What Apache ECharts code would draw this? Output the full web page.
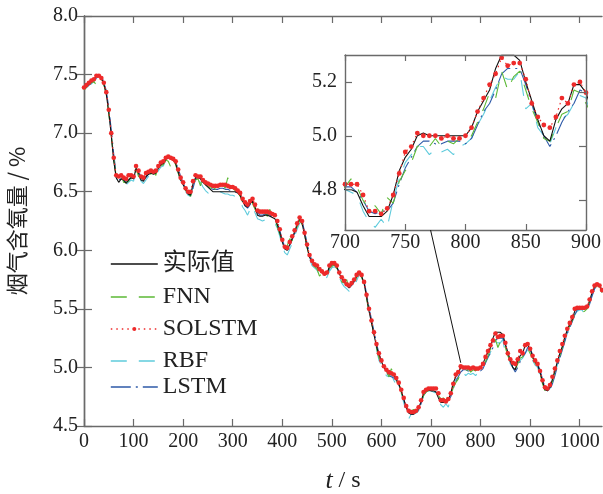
<!DOCTYPE html>
<html><head><meta charset="utf-8">
<script src="https://cdn.jsdelivr.net/npm/echarts@6/dist/echarts.min.js"></script>
<style>html,body{margin:0;padding:0;background:#fff}#c{width:603px;height:494px}</style>
</head><body><div id="c"></div><script>
const times = [
0,5,10,15,20,25,30,35,40,45,50,55,60,65,70,75,80,85,90,95,
100,105,110,115,120,125,130,135,140,145,150,155,160,165,170,175,180,185,190,195,
200,205,210,215,220,225,230,235,240,245,250,255,260,265,270,275,280,285,290,295,
300,305,310,315,320,325,330,335,340,345,350,355,360,365,370,375,380,385,390,395,
400,405,410,415,420,425,430,435,440,445,450,455,460,465,470,475,480,485,490,495,
500,505,510,515,520,525,530,535,540,545,550,555,560,565,570,575,580,585,590,595,
600,605,610,615,620,625,630,635,640,645,650,655,660,665,670,675,680,685,690,695,
700,705,710,715,720,725,730,735,740,745,750,755,760,765,770,775,780,785,790,795,
800,805,810,815,820,825,830,835,840,845,850,855,860,865,870,875,880,885,890,895,
900,905,910,915,920,925,930,935,940,945,950,955,960,965,970,975,980,985,990,995,
1000,1005,1010,1015,1020,1025,1030,1035,1040,1045];

const actual = [
7.38,7.40,7.42,7.44,7.46,7.49,7.50,7.47,7.42,7.33,
7.18,6.98,6.76,6.62,6.58,6.61,6.60,6.57,6.60,6.62,
6.61,6.70,6.66,6.60,6.59,6.63,6.65,6.66,6.65,6.66,
6.70,6.73,6.74,6.78,6.79,6.78,6.77,6.74,6.67,6.60,
6.56,6.52,6.48,6.47,6.57,6.62,6.62,6.61,6.58,6.56,
6.54,6.52,6.50,6.50,6.50,6.50,6.50,6.50,6.50,6.50,
6.50,6.50,6.49,6.47,6.42,6.38,6.37,6.40,6.42,6.37,
6.30,6.29,6.29,6.30,6.30,6.29,6.28,6.27,6.22,6.15,
6.07,6.01,6.00,6.05,6.10,6.16,6.22,6.27,6.23,6.13,
6.03,5.94,5.90,5.87,5.86,5.83,5.81,5.79,5.80,5.86,
5.88,5.88,5.86,5.80,5.76,5.73,5.70,5.68,5.71,5.74,
5.78,5.81,5.78,5.72,5.60,5.48,5.38,5.28,5.18,5.11,
5.05,5.00,4.97,4.95,4.94,4.93,4.90,4.86,4.80,4.73,
4.66,4.61,4.60,4.60,4.62,4.65,4.71,4.78,4.80,4.81,
4.80,4.80,4.79,4.74,4.70,4.70,4.70,4.72,4.78,4.87,
4.92,4.95,5.00,5.01,5.00,5.00,5.00,5.00,5.00,5.00,
5.00,5.03,5.09,5.13,5.17,5.25,5.30,5.30,5.30,5.28,
5.20,5.13,5.06,5.00,4.98,5.06,5.10,5.12,5.19,5.19,
5.16,5.09,5.05,5.02,4.96,4.88,4.81,4.80,4.83,4.90,
4.97,5.05,5.12,5.18,5.26,5.32,5.37,5.41,5.48,5.50,
5.50,5.50,5.50,5.51,5.57,5.64,5.69,5.71,5.70,5.66];

const fnn = [
7.37,7.39,7.42,7.43,7.44,7.41,7.48,7.47,7.41,7.34,
7.16,6.98,6.78,6.63,6.60,6.64,6.58,6.58,6.59,6.63,
6.60,6.70,6.63,6.62,6.59,6.64,6.66,6.65,6.67,6.64,
6.74,6.72,6.73,6.77,6.76,6.71,6.78,6.73,6.66,6.60,
6.55,6.51,6.49,6.46,6.55,6.60,6.61,6.55,6.64,6.56,
6.55,6.53,6.54,6.52,6.54,6.52,6.56,6.53,6.62,6.54,
6.53,6.51,6.50,6.46,6.41,6.37,6.39,6.43,6.40,6.35,
6.30,6.31,6.30,6.32,6.29,6.35,6.28,6.27,6.20,6.14,
6.08,6.01,6.04,6.10,6.08,6.17,6.20,6.26,6.22,6.14,
6.02,5.95,5.89,5.86,5.84,5.78,5.80,5.77,5.80,5.85,
5.86,5.88,5.84,5.79,5.73,5.72,5.75,5.67,5.70,5.72,
5.77,5.80,5.77,5.71,5.59,5.47,5.39,5.27,5.17,5.08,
5.04,4.98,4.97,4.92,4.99,4.94,4.88,4.87,4.79,4.71,
4.68,4.62,4.63,4.64,4.63,4.67,4.70,4.76,4.79,4.80,
4.81,4.84,4.81,4.76,4.73,4.74,4.71,4.77,4.75,4.83,
4.87,4.90,4.96,4.97,4.96,4.99,4.96,4.98,4.97,4.99,
4.98,5.00,5.05,5.10,5.16,5.14,5.24,5.17,5.22,5.24,
5.17,5.10,5.05,4.99,4.98,5.03,5.08,5.09,5.17,5.16,
5.12,5.08,5.04,5.00,4.95,4.86,4.80,4.80,4.82,4.88,
4.97,5.04,5.10,5.17,5.25,5.30,5.36,5.40,5.46,5.48,
5.49,5.47,5.48,5.50,5.56,5.63,5.67,5.70,5.69,5.64];

const solstm = [
7.39,7.41,7.43,7.45,7.46,7.49,7.49,7.47,7.43,7.35,
7.20,7.00,6.79,6.64,6.63,6.64,6.62,6.61,6.64,6.64,
6.63,6.72,6.68,6.63,6.62,6.66,6.67,6.68,6.67,6.68,
6.72,6.75,6.76,6.79,6.80,6.79,6.78,6.76,6.69,6.62,
6.58,6.53,6.50,6.50,6.59,6.64,6.63,6.63,6.60,6.58,
6.57,6.56,6.55,6.55,6.55,6.56,6.56,6.56,6.55,6.54,
6.54,6.53,6.51,6.49,6.44,6.41,6.39,6.42,6.44,6.39,
6.34,6.33,6.33,6.33,6.33,6.32,6.31,6.30,6.25,6.18,
6.09,6.03,6.02,6.07,6.12,6.17,6.23,6.28,6.25,6.15,
6.05,5.96,5.91,5.88,5.87,5.84,5.82,5.80,5.81,5.87,
5.89,5.89,5.87,5.81,5.77,5.74,5.71,5.70,5.72,5.75,
5.79,5.81,5.79,5.73,5.62,5.50,5.40,5.30,5.20,5.12,
5.06,5.01,4.98,4.96,4.95,4.94,4.91,4.87,4.81,4.74,
4.67,4.63,4.62,4.62,4.63,4.66,4.72,4.79,4.81,4.82,
4.82,4.82,4.82,4.78,4.72,4.72,4.71,4.73,4.78,4.86,
4.94,4.96,5.01,5.00,5.00,5.00,4.99,5.00,4.99,4.99,
5.00,5.03,5.09,5.14,5.19,5.23,5.29,5.26,5.27,5.27,
5.21,5.12,5.07,5.04,5.03,5.07,5.14,5.12,5.19,5.20,
5.16,5.10,5.06,5.03,4.97,4.89,4.83,4.82,4.85,4.92,
4.99,5.06,5.14,5.20,5.27,5.33,5.38,5.43,5.50,5.51,
5.51,5.51,5.51,5.52,5.58,5.65,5.70,5.71,5.70,5.66];

const rbf = [
7.37,7.39,7.41,7.42,7.44,7.47,7.49,7.47,7.43,7.34,
7.19,7.00,6.79,6.62,6.58,6.59,6.58,6.56,6.58,6.60,
6.59,6.68,6.65,6.59,6.57,6.60,6.63,6.63,6.62,6.64,
6.68,6.71,6.72,6.77,6.78,6.77,6.76,6.73,6.66,6.59,
6.54,6.50,6.47,6.46,6.54,6.60,6.60,6.58,6.54,6.51,
6.49,6.48,6.48,6.49,6.49,6.50,6.49,6.48,6.48,6.47,
6.47,6.46,6.45,6.43,6.37,6.34,6.30,6.35,6.38,6.32,
6.27,6.26,6.25,6.26,6.25,6.25,6.24,6.23,6.19,6.12,
6.04,5.98,5.96,6.01,6.06,6.12,6.18,6.23,6.26,6.16,
6.05,5.93,5.87,5.85,5.83,5.79,5.77,5.75,5.77,5.82,
5.85,5.86,5.84,5.77,5.72,5.69,5.67,5.65,5.66,5.68,
5.74,5.79,5.77,5.72,5.62,5.51,5.39,5.29,5.16,5.06,
5.02,4.97,4.93,4.92,4.94,4.89,4.85,4.83,4.78,4.70,
4.62,4.56,4.60,4.61,4.61,4.63,4.69,4.76,4.79,4.80,
4.80,4.79,4.78,4.72,4.68,4.66,4.69,4.66,4.76,4.84,
4.90,4.93,4.96,4.96,4.93,4.95,4.94,4.95,4.93,4.96,
4.97,4.99,5.04,5.08,5.13,5.18,5.22,5.21,5.21,5.24,
5.10,5.12,5.03,5.00,4.97,5.03,5.06,5.08,5.12,5.15,
5.14,5.06,5.02,5.00,4.93,4.86,4.82,4.80,4.82,4.88,
4.95,5.02,5.09,5.16,5.23,5.29,5.35,5.39,5.45,5.48,
5.49,5.49,5.45,5.49,5.55,5.62,5.67,5.69,5.68,5.64];

const lstm = [
7.38,7.39,7.41,7.43,7.45,7.47,7.49,7.48,7.44,7.36,
7.22,7.03,6.82,6.65,6.60,6.61,6.60,6.58,6.60,6.62,
6.61,6.68,6.68,6.62,6.60,6.62,6.65,6.66,6.65,6.66,
6.70,6.73,6.75,6.78,6.80,6.79,6.78,6.75,6.70,6.63,
6.57,6.53,6.49,6.48,6.53,6.61,6.63,6.62,6.59,6.56,
6.54,6.53,6.52,6.52,6.52,6.53,6.53,6.52,6.52,6.51,
6.51,6.50,6.49,6.47,6.43,6.38,6.36,6.39,6.42,6.38,
6.32,6.30,6.30,6.31,6.31,6.30,6.29,6.28,6.24,6.17,
6.09,6.03,6.00,6.04,6.09,6.15,6.21,6.26,6.25,6.16,
6.06,5.97,5.91,5.88,5.86,5.83,5.81,5.79,5.79,5.84,
5.87,5.88,5.86,5.81,5.76,5.73,5.70,5.68,5.70,5.73,
5.77,5.80,5.79,5.74,5.63,5.51,5.41,5.31,5.21,5.12,
5.06,5.01,4.96,4.93,4.92,4.91,4.89,4.85,4.80,4.73,
4.66,4.62,4.60,4.60,4.61,4.64,4.69,4.76,4.79,4.81,
4.81,4.81,4.79,4.76,4.72,4.71,4.72,4.72,4.75,4.82,
4.88,4.92,4.96,4.98,4.98,4.97,4.97,4.98,4.98,4.98,
4.97,4.99,5.04,5.09,5.12,5.17,5.23,5.25,5.25,5.25,
5.19,5.12,5.05,5.00,4.96,5.00,5.05,5.09,5.12,5.17,
5.16,5.11,5.06,5.03,4.98,4.90,4.83,4.80,4.81,4.86,
4.93,5.01,5.08,5.15,5.22,5.29,5.34,5.39,5.45,5.49,
5.50,5.50,5.50,5.50,5.54,5.61,5.67,5.70,5.70,5.67];

const seriesNames = ['实际值', 'FNN', 'SOLSTM', 'RBF', 'LSTM'];
const mainXTicks = [0,100,200,300,400,500,600,700,800,900,1000];
const mainYTicks = [4.5,5.0,5.5,6.0,6.5,7.0,7.5,8.0];
const insetXTicks = [700,750,800,850,900];
const insetYTicks = [4.8,5.0,5.2];
const insetYRightTicks = [4.76,4.96,5.16];
const yName = '烟气含氧量 / %';
// connector anchor: inset bottom point and the main-chart point it refers to
const connInset = [771, 4.65];
const connMain = [760, 5.04];

const SERIF = '"Liberation Serif","Times New Roman",serif';
const AX = '#6a6a6a';
const pairs = arr => times.map((t, i) => [t, arr[i]]);

const styles = {
  '实际值': {color:'#111111', type:'solid', width:1.1, z:4},
  'FNN': {color:'#5cb936', type:[16,12], width:1.1, z:3},
  'SOLSTM': {color:'#ee2a2a', type:[1.5,4], width:1.2, z:6},
  'RBF': {color:'#5fcbdc', type:[16,12], width:1.1, z:1},
  'LSTM': {color:'#2e5aa8', type:[20,5,2,5], width:1.1, z:2}
};
const dataMap = {'实际值': actual, 'FNN': fnn, 'SOLSTM': solstm, 'RBF': rbf, 'LSTM': lstm};

function mkSeries(name, xi, yi, symSize) {
  const s = styles[name];
  const isRed = name === 'SOLSTM';
  return {
    type: 'line', name, xAxisIndex: xi, yAxisIndex: yi,
    data: pairs(dataMap[name]),
    symbol: isRed ? 'circle' : 'none', symbolSize: symSize, showSymbol: isRed, showAllSymbol: true,
    itemStyle: {color: s.color, borderWidth: 0},
    lineStyle: {color: s.color, type: s.type, width: s.width},
    z: s.z + 2, clip: true, silent: true
  };
}

const series = [];
seriesNames.forEach(n => series.push(mkSeries(n, 0, 0, 4.6)));
seriesNames.forEach(n => series.push(mkSeries(n, 2, 2, 4.8)));

const legendTops = [251, 284, 316, 348, 374];
const legends = seriesNames.map((n, i) => {
  const isRed = n === 'SOLSTM';
  return {
    data: [n], left: 110, top: legendTops[i], padding: 0,
    itemWidth: 47, itemHeight: isRed ? 5 : 14, itemGap: 0, itemTextGap: 5,
    selectedMode: false,
    itemStyle: isRed ? {} : {color: 'rgba(0,0,0,0)', borderWidth: 0, opacity: 0},
    lineStyle: {width: 1.6},
    textStyle: {fontSize: 24, fontFamily: '"Liberation Serif","Noto Sans CJK SC",serif', color: '#222', lineHeight: 26}
  };
});

const tickStyle = {lineStyle: {color: AX, width: 1.2}};
const axisLineStyle = {lineStyle: {color: AX, width: 1.4}};
const numFmt = v => String(v);

const option = {
  animation: false,
  backgroundColor: '#fff',
  grid: [
    {left: 84, top: 16, width: 518, height: 410, containLabel: false, outerBoundsMode: 'none'},
    {left: 345, top: 55, width: 241, height: 175, show: true, backgroundColor: '#fff', borderWidth: 0, z: 0, containLabel: false, outerBoundsMode: 'none'}
  ],
  legend: legends,
  xAxis: [
    {type: 'value', gridIndex: 0, min: 0, max: 1045, position: 'bottom',
     axisLine: {show: true, ...axisLineStyle},
     axisTick: {show: true, inside: true, length: 7, customValues: mainXTicks, ...tickStyle},
     axisLabel: {customValues: mainXTicks, formatter: numFmt, fontSize: 20, fontFamily: SERIF, color: '#222', margin: 6},
     splitLine: {show: false},
     name: '{i|t} / s', nameLocation: 'middle', nameGap: 42,
     nameTextStyle: {fontSize: 24, fontFamily: SERIF, color: '#222', rich: {i: {fontStyle: 'italic', fontSize: 26, fontFamily: SERIF, color: '#222'}}}},
    {type: 'value', gridIndex: 0, min: 0, max: 1045, position: 'top',
     axisLine: {show: true, ...axisLineStyle},
     axisTick: {show: true, inside: true, length: 7, customValues: mainXTicks, ...tickStyle},
     axisLabel: {show: false}, splitLine: {show: false}},
    {type: 'value', gridIndex: 1, min: 700, max: 900, position: 'bottom',
     axisLine: {show: true, onZero: false, ...axisLineStyle},
     axisTick: {show: true, inside: true, length: 6, customValues: insetXTicks, ...tickStyle},
     axisLabel: {customValues: insetXTicks, formatter: numFmt, fontSize: 20, fontFamily: SERIF, color: '#222', margin: 3},
     splitLine: {show: false}, z: 9},
    {type: 'value', gridIndex: 1, min: 700, max: 900, position: 'top',
     axisLine: {show: true, onZero: false, ...axisLineStyle},
     axisTick: {show: true, inside: true, length: 6, customValues: insetXTicks, ...tickStyle},
     axisLabel: {show: false}, splitLine: {show: false}, z: 9}
  ],
  yAxis: [
    {type: 'value', gridIndex: 0, min: 4.5, max: 8.0, position: 'left',
     axisLine: {show: true, ...axisLineStyle},
     axisTick: {show: true, inside: true, length: 8, customValues: mainYTicks, ...tickStyle},
     axisLabel: {customValues: mainYTicks, formatter: v => v.toFixed(1), fontSize: 20, fontFamily: SERIF, color: '#222', margin: 6},
     splitLine: {show: false},
     name: yName, nameLocation: 'middle', nameGap: 56, nameRotate: 90,
     nameTextStyle: {fontSize: 22, fontFamily: '"Noto Sans CJK SC","Liberation Serif",sans-serif', color: '#222'}},
    {type: 'value', gridIndex: 0, min: 4.5, max: 8.0, position: 'right',
     axisLine: {show: true, ...axisLineStyle},
     axisTick: {show: true, inside: true, length: 8, customValues: mainYTicks, ...tickStyle},
     axisLabel: {show: false}, splitLine: {show: false}},
    {type: 'value', gridIndex: 1, min: 4.65, max: 5.3, position: 'left',
     axisLine: {show: true, onZero: false, ...axisLineStyle},
     axisTick: {show: true, inside: true, length: 7, customValues: insetYTicks, ...tickStyle},
     axisLabel: {customValues: insetYTicks, formatter: v => v.toFixed(1), fontSize: 20, fontFamily: SERIF, color: '#222', margin: 8},
     splitLine: {show: false}, z: 9},
    {type: 'value', gridIndex: 1, min: 4.65, max: 5.3, position: 'right',
     axisLine: {show: true, onZero: false, ...axisLineStyle},
     axisTick: {show: true, inside: true, length: 7, customValues: insetYRightTicks, ...tickStyle},
     axisLabel: {show: false}, splitLine: {show: false}, z: 9}
  ],
  series
};

const chart = echarts.init(document.getElementById('c'), null, {renderer: 'canvas'});
chart.setOption(option);
const p1 = chart.convertToPixel({xAxisIndex: 2, yAxisIndex: 2}, connInset);
const p2 = chart.convertToPixel({xAxisIndex: 0, yAxisIndex: 0}, connMain);
chart.setOption({graphic: [{type: 'line', z: 100, silent: true,
  shape: {x1: p1[0], y1: p1[1], x2: p2[0], y2: p2[1]},
  style: {stroke: '#111', lineWidth: 1}}]});
</script></body></html>
